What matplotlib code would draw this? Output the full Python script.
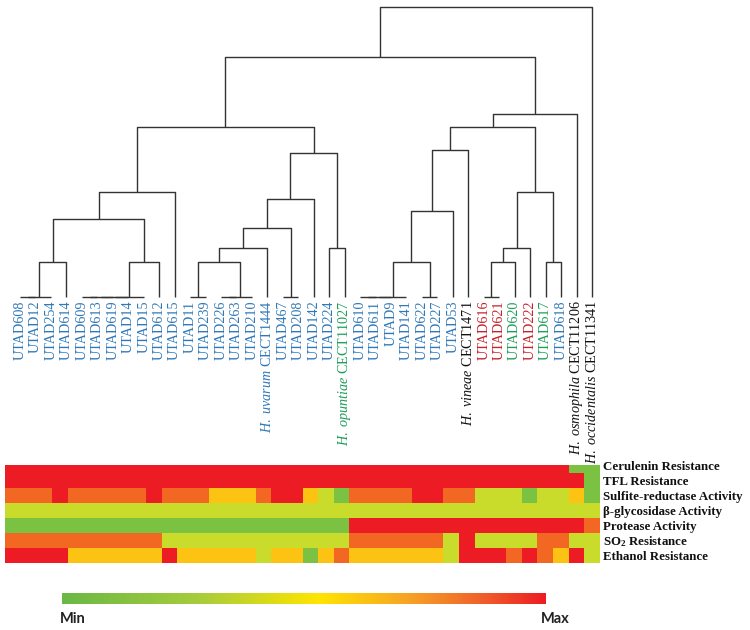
import numpy as np
import matplotlib
matplotlib.use('Agg')
import matplotlib.pyplot as plt
from matplotlib.colors import ListedColormap, LinearSegmentedColormap

plt.rcParams['font.family'] = 'Liberation Serif'
plt.rcParams['mathtext.fontset'] = 'custom'
plt.rcParams['mathtext.rm'] = 'Liberation Serif'
plt.rcParams['mathtext.it'] = 'Liberation Serif:italic'
plt.rcParams['mathtext.bf'] = 'Liberation Serif:bold'

# ---------------- data ----------------
leaves = ['UTAD608', 'UTAD12', 'UTAD254', 'UTAD614', 'UTAD609', 'UTAD613', 'UTAD619',
          'UTAD14', 'UTAD15', 'UTAD612', 'UTAD615', 'UTAD11', 'UTAD239', 'UTAD226',
          'UTAD263', 'UTAD210', r'$\mathit{H.\ uvarum}$ CECT1444', 'UTAD467', 'UTAD208',
          'UTAD142', 'UTAD224', r'$\mathit{H.\ opuntiae}$ CECT11027', 'UTAD610', 'UTAD611',
          'UTAD9', 'UTAD141', 'UTAD622', 'UTAD227', 'UTAD53', r'$\mathit{H.\ vineae}$ CECT1471',
          'UTAD616', 'UTAD621', 'UTAD620', 'UTAD222', 'UTAD617', 'UTAD618',
          r'$\mathit{H.\ osmophila}$ CECT11206', r'$\mathit{H.\ occidentalis}$ CECT11341']

# b = blue, g = green, r = red, k = black
leaf_groups = ['b', 'b', 'b', 'b', 'b', 'b', 'b', 'b', 'b', 'b', 'b', 'b', 'b', 'b', 'b', 'b',
               'b', 'b', 'b', 'b', 'b', 'g', 'b', 'b', 'b', 'b', 'b', 'b', 'b', 'k',
               'r', 'r', 'g', 'r', 'g', 'b', 'k', 'k']

# linkage: (child a, child b, height); new cluster ids start at 38
merges = [(0, 1, 0), (38, 2, 0), (39, 3, 35),
          (4, 5, 0), (41, 6, 0), (42, 7, 0), (43, 8, 0), (44, 9, 35),
          (40, 45, 78), (46, 10, 105),
          (11, 12, 0), (13, 14, 0), (49, 15, 0), (48, 50, 35), (51, 16, 49),
          (17, 18, 0), (52, 53, 69), (54, 19, 98), (20, 21, 49), (55, 56, 144),
          (47, 57, 170),
          (22, 23, 0), (59, 24, 0), (60, 25, 0), (26, 27, 0), (61, 62, 35),
          (63, 28, 86), (64, 29, 147),
          (30, 31, 0), (66, 32, 35), (67, 33, 49), (34, 35, 35), (68, 69, 105),
          (65, 70, 170), (71, 36, 183), (58, 72, 240), (73, 37, 290)]

traits = ['Cerulenin Resistance', 'TFL Resistance', 'Sulfite-reductase Activity',
          'β-glycosidase Activity', 'Protease Activity', r'SO$_\mathbf{2}$ Resistance',
          'Ethanol Resistance']

# 0 = min ... 4 = max
cerulenin = [4, 4, 4, 4, 4, 4, 4, 4, 4, 4, 4, 4, 4, 4, 4, 4, 4, 4, 4, 4, 4, 4, 4, 4, 4, 4, 4, 4, 4, 4, 4, 4, 4, 4, 4, 4, 0, 0]
tfl       = [4, 4, 4, 4, 4, 4, 4, 4, 4, 4, 4, 4, 4, 4, 4, 4, 4, 4, 4, 4, 4, 4, 4, 4, 4, 4, 4, 4, 4, 4, 4, 4, 4, 4, 4, 4, 4, 0]
sulfite   = [3, 3, 3, 4, 3, 3, 3, 3, 3, 4, 3, 3, 3, 2, 2, 2, 3, 4, 4, 2, 1, 0, 3, 3, 3, 3, 4, 4, 3, 3, 1, 1, 1, 0, 1, 1, 2, 0]
glyco     = [1, 1, 1, 1, 1, 1, 1, 1, 1, 1, 1, 1, 1, 1, 1, 1, 1, 1, 1, 1, 1, 1, 1, 1, 1, 1, 1, 1, 1, 1, 1, 1, 1, 1, 1, 1, 1, 1]
protease  = [0, 0, 0, 0, 0, 0, 0, 0, 0, 0, 0, 0, 0, 0, 0, 0, 0, 0, 0, 0, 0, 0, 4, 4, 4, 4, 4, 4, 4, 4, 4, 4, 4, 4, 4, 4, 4, 3]
so2       = [3, 3, 3, 3, 3, 3, 3, 3, 3, 3, 1, 1, 1, 1, 1, 1, 1, 1, 1, 1, 1, 1, 3, 3, 3, 3, 3, 3, 1, 4, 1, 1, 1, 1, 3, 3, 1, 1]
ethanol   = [4, 4, 4, 4, 2, 2, 2, 2, 2, 2, 4, 2, 2, 2, 2, 2, 1, 2, 2, 0, 2, 3, 2, 2, 2, 2, 2, 2, 1, 4, 4, 4, 3, 4, 3, 2, 4, 1]

# ---------------- style ----------------
text_colors = {'b': '#2f78b7', 'g': '#1e9e58', 'r': '#c8202a', 'k': '#111111'}
level_colors = ['#7cc242', '#c9dc2c', '#fdc312', '#f26722', '#ed1c24']
line_col = '#333333'

W, H = 750., 630.
fig = plt.figure(figsize=(7.5, 6.3), dpi=100)
fig.patch.set_facecolor('white')

# ---------------- dendrogram ----------------
ax = fig.add_axes([12.3 / W, 1 - 297 / H, 587.4 / W, 290 / H])
xpos = [float(i) for i in range(len(leaves))]
hpos = [0.0] * len(leaves)
for a, b, h in merges:
    ax.plot([xpos[a], xpos[a], xpos[b], xpos[b]], [hpos[a], h, h, hpos[b]],
            color=line_col, lw=1.0, clip_on=False, solid_capstyle='butt')
    xpos.append((xpos[a] + xpos[b]) / 2.)
    hpos.append(float(h))
ax.set_xlim(-0.5, len(leaves) - 0.5)
ax.set_ylim(0, 290)
ax.axis('off')

for i, (name, g) in enumerate(zip(leaves, leaf_groups)):
    ax.annotate(name, xy=(i, 0), xytext=(0, -2.5), textcoords='offset points',
                rotation=90, ha='center', va='top', fontsize=10.2, color=text_colors[g])

# ---------------- heatmap ----------------
hm = np.array([cerulenin, tfl, sulfite, glyco, protease, so2, ethanol])
ax2 = fig.add_axes([5 / W, 1 - 563 / H, 595 / W, 98 / H])
ax2.pcolormesh(np.arange(hm.shape[1] + 1), np.arange(hm.shape[0] + 1), hm,
               cmap=ListedColormap(level_colors), vmin=-0.5, vmax=4.5)
ax2.set_xlim(0, hm.shape[1])
ax2.set_ylim(hm.shape[0], 0.47)
ax2.axis('off')
for r, name in enumerate(traits):
    ax2.text(hm.shape[1] + 0.2, r + 0.6, name, ha='left', va='center',
             fontsize=9.3, fontweight='bold', color='#111111', clip_on=False)

# ---------------- colour scale ----------------
cbar_cmap = LinearSegmentedColormap.from_list('scale', [
    (0.0, '#6ab845'), (0.28, '#a6cc3c'), (0.53, '#ffe500'),
    (0.72, '#f7a226'), (0.86, '#f0642a'), (1.0, '#ed1c24')])
ax3 = fig.add_axes([62 / W, 1 - 604 / H, 484 / W, 11 / H])
ax3.imshow(np.linspace(0, 1, 256)[None, :], aspect='auto', cmap=cbar_cmap)
ax3.axis('off')
fig.text(60 / W, 1 - 619 / H, 'Min', family='Lato', fontweight='bold', fontsize=10.5,
         ha='left', va='center', color='#222222')
fig.text(541 / W, 1 - 619 / H, 'Max', family='Lato', fontweight='bold', fontsize=10.5,
         ha='left', va='center', color='#222222')

fig.savefig('out.png', dpi=100)
